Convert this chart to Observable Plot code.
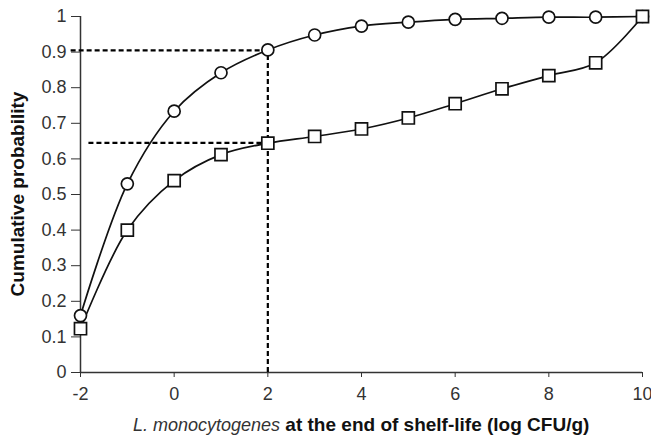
<!DOCTYPE html>
<html>
<head>
<meta charset="utf-8">
<script src="https://cdn.jsdelivr.net/npm/d3@7"></script>
<script src="https://cdn.jsdelivr.net/npm/@observablehq/plot@0.6"></script>
<style>
  html, body { margin: 0; padding: 0; background: #fff; }
  svg { display: block; }
</style>
</head>
<body>
<div id="chart"></div>
<script>
const xValues = [-2, -1, 0, 1, 2, 3, 4, 5, 6, 7, 8, 9, 10];
const circleSeries = [0.16, 0.53, 0.734, 0.842, 0.906, 0.948, 0.973, 0.984, 0.992, 0.995, 0.998, 0.998, 1.0];
const squareSeries = [0.123, 0.40, 0.539, 0.612, 0.644, 0.663, 0.684, 0.715, 0.755, 0.797, 0.834, 0.87, 1.0];
const xTicks = [-2, 0, 2, 4, 6, 8, 10];
const yTicks = [0, 0.1, 0.2, 0.3, 0.4, 0.5, 0.6, 0.7, 0.8, 0.9, 1];
const yTickLabels = ["0", "0.1", "0.2", "0.3", "0.4", "0.5", "0.6", "0.7", "0.8", "0.9", "1"];
const refX = 2;
const refY = [0.905, 0.645];
const refStart = [-2.2, -1.82];
const yTitle = "Cumulative probability";
const xTitleItalic = "L. monocytogenes";
const xTitleBold = " at the end of shelf-life (log CFU/g)";

const circles = xValues.map((x, i) => ({x, y: circleSeries[i]}));
const squares = xValues.map((x, i) => ({x, y: squareSeries[i]}));
const refs = refY.map((y, i) => ({y, x1: refStart[i], x2: refX}));

const font = "Liberation Sans, Arial, sans-serif";

const chart = Plot.plot({
  width: 651,
  height: 435,
  marginLeft: 80,
  marginRight: 9,
  marginTop: 16,
  marginBottom: 63,
  style: {fontFamily: font, fontSize: "18px", color: "#333", background: "#fff", overflow: "visible"},
  x: {domain: [-2, 10]},
  y: {domain: [0, 1]},
  marks: [
    Plot.axisY({ticks: yTicks, tickFormat: (d, i) => yTickLabels[i], tickSize: 9, tickPadding: 5, label: null, stroke: "#333", fontSize: 18}),
    Plot.axisX({ticks: xTicks, tickFormat: d => String(d), tickSize: 5, tickPadding: 10, label: null, stroke: "#333", fontSize: 18}),
    Plot.ruleX([-2], {y1: 0, y2: 1, stroke: "#333", strokeWidth: 1.5}),
    Plot.ruleY([0], {x1: -2, x2: 10, stroke: "#333", strokeWidth: 1.5}),
    Plot.ruleY(refs, {y: "y", x1: "x1", x2: "x2", stroke: "#000", strokeWidth: 2.2, strokeDasharray: "5,3"}),
    Plot.ruleX([refX], {y1: 0, y2: refY[0], stroke: "#000", strokeWidth: 2.2, strokeDasharray: "5,3"}),
    Plot.line(circles, {x: "x", y: "y", curve: "catmull-rom", stroke: "#111", strokeWidth: 1.7}),
    Plot.line(squares, {x: "x", y: "y", curve: "catmull-rom", stroke: "#111", strokeWidth: 1.7}),
    Plot.dot(circles, {x: "x", y: "y", r: 6, symbol: "circle", fill: "#fff", stroke: "#111", strokeWidth: 1.7}),
    Plot.dot(squares, {x: "x", y: "y", r: 6.8, symbol: "square", fill: "#fff", stroke: "#111", strokeWidth: 1.7})
  ]
});

const svg = d3.select(chart);
svg.append("text")
  .attr("transform", "translate(24,194) rotate(-90)")
  .attr("text-anchor", "middle")
  .attr("font-family", font)
  .attr("font-weight", "bold")
  .attr("font-size", 19)
  .attr("fill", "#111")
  .text(yTitle);

const xt = svg.append("text")
  .attr("x", 133)
  .attr("y", 431)
  .attr("text-anchor", "start")
  .attr("font-family", font)
  .attr("fill", "#111");
xt.append("tspan").attr("font-style", "italic").attr("font-size", 18).attr("fill", "#333").text(xTitleItalic);
xt.append("tspan").attr("font-weight", "bold").attr("font-size", 19).text(xTitleBold);

document.getElementById("chart").appendChild(chart);
</script>
</body>
</html>
